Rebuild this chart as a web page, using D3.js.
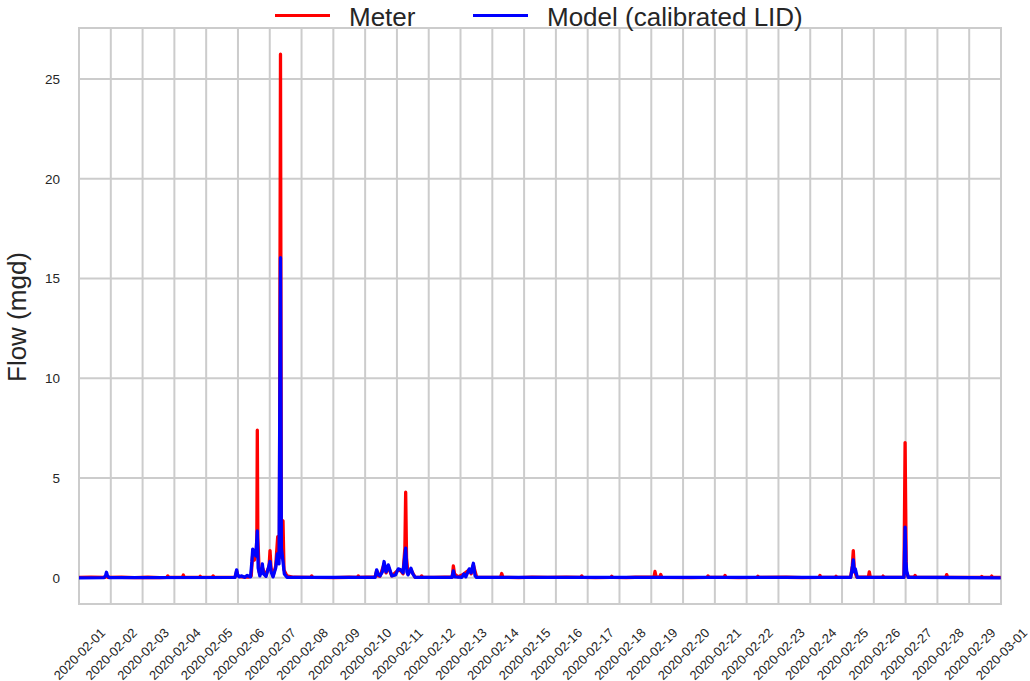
<!DOCTYPE html>
<html>
<head>
<meta charset="utf-8">
<script src="https://cdn.jsdelivr.net/npm/d3@7"></script>
<style>
  html, body { margin: 0; padding: 0; background: #ffffff; }
  svg { display: block; font-family: "Liberation Sans", Arial, sans-serif; }
</style>
</head>
<body>
<svg id="chart" width="1030" height="681"></svg>
<script>
// ---------------- data ----------------
const seriesNames = ["Meter", "Model (calibrated LID)"];
const yTicks = [0, 5, 10, 15, 20, 25];
const xTickDates = ["2020-02-01","2020-02-02","2020-02-03","2020-02-04","2020-02-05","2020-02-06",
  "2020-02-07","2020-02-08","2020-02-09","2020-02-10","2020-02-11","2020-02-12","2020-02-13",
  "2020-02-14","2020-02-15","2020-02-16","2020-02-17","2020-02-18","2020-02-19","2020-02-20",
  "2020-02-21","2020-02-22","2020-02-23","2020-02-24","2020-02-25","2020-02-26","2020-02-27",
  "2020-02-28","2020-02-29","2020-03-01"];

const meterFlow = [
  ["2020-02-01T00:00",0.02],["2020-02-01T09:00",0.04],["2020-02-01T19:30",0.02],["2020-02-01T20:45",0.12],
  ["2020-02-01T22:00",0.02],["2020-02-02T08:00",0.03],["2020-02-02T18:00",0.01],["2020-02-03T04:00",0.03],
  ["2020-02-03T13:00",0.01],["2020-02-03T18:15",0.02],["2020-02-03T19:00",0.1],["2020-02-03T19:45",0.02],
  ["2020-02-04T06:00",0.02],["2020-02-04T06:45",0.14],["2020-02-04T07:30",0.02],
  ["2020-02-04T18:45",0.02],["2020-02-04T19:30",0.08],["2020-02-04T20:15",0.02],
  ["2020-02-05T04:30",0.02],["2020-02-05T05:15",0.1],["2020-02-05T06:00",0.02],
  ["2020-02-05T21:30",0.03],["2020-02-05T22:15",0.1],["2020-02-05T23:00",0.35],["2020-02-05T23:45",0.12],
  ["2020-02-06T02:00",0.05],["2020-02-06T08:00",0.04],["2020-02-06T10:00",0.1],["2020-02-06T11:00",1.1],
  ["2020-02-06T12:30",0.9],["2020-02-06T13:45",1.2],["2020-02-06T14:15",2.0],["2020-02-06T14:36",7.4],
  ["2020-02-06T15:00",2.0],["2020-02-06T16:00",0.3],["2020-02-06T18:30",0.5],["2020-02-06T21:00",0.1],
  ["2020-02-06T23:30",0.6],["2020-02-07T00:12",1.37],["2020-02-07T01:00",0.5],["2020-02-07T02:30",0.1],
  ["2020-02-07T04:30",0.6],["2020-02-07T06:00",2.07],["2020-02-07T07:15",1.0],["2020-02-07T08:06",26.25],
  ["2020-02-07T08:45",2.9],["2020-02-07T10:00",2.85],["2020-02-07T10:45",0.4],["2020-02-07T13:00",0.1],
  ["2020-02-07T18:00",0.03],["2020-02-08T07:00",0.02],["2020-02-08T07:40",0.1],["2020-02-08T08:20",0.02],
  ["2020-02-09T01:00",0.01],["2020-02-09T12:00",0.03],["2020-02-09T18:10",0.02],["2020-02-09T18:50",0.1],
  ["2020-02-09T19:30",0.02],["2020-02-10T07:30",0.05],
  ["2020-02-10T08:42",0.35],["2020-02-10T10:00",0.1],["2020-02-10T11:12",0.08],["2020-02-10T14:18",0.7],
  ["2020-02-10T15:48",0.25],["2020-02-10T17:30",0.55],["2020-02-10T20:06",0.1],["2020-02-11T01:00",0.4],
  ["2020-02-11T02:54",0.35],["2020-02-11T04:36",0.2],["2020-02-11T06:00",1.5],["2020-02-11T06:36",4.29],
  ["2020-02-11T07:15",1.0],["2020-02-11T08:24",0.2],["2020-02-11T10:36",0.4],["2020-02-11T13:42",0.03],
  ["2020-02-11T18:00",0.02],["2020-02-11T18:40",0.1],["2020-02-11T19:20",0.02],["2020-02-12T04:00",0.02],
  ["2020-02-12T12:00",0.04],["2020-02-12T17:45",0.04],
  ["2020-02-12T18:36",0.6],["2020-02-12T19:30",0.2],["2020-02-12T22:06",0.05],["2020-02-13T02:36",0.2],
  ["2020-02-13T06:36",0.4],["2020-02-13T08:00",0.2],["2020-02-13T09:42",0.65],["2020-02-13T12:12",0.04],
  ["2020-02-13T20:00",0.02],["2020-02-14T06:15",0.03],["2020-02-14T07:06",0.22],["2020-02-14T08:00",0.03],
  ["2020-02-14T20:00",0.01],["2020-02-15T06:00",0.04],["2020-02-15T18:00",0.02],["2020-02-16T08:00",0.03],
  ["2020-02-16T18:45",0.02],["2020-02-16T19:30",0.1],["2020-02-16T20:15",0.02],["2020-02-17T06:00",0.01],
  ["2020-02-17T17:30",0.02],["2020-02-17T18:10",0.08],["2020-02-17T18:50",0.02],["2020-02-18T05:00",0.01],
  ["2020-02-18T12:00",0.03],["2020-02-19T02:00",0.03],["2020-02-19T02:48",0.32],["2020-02-19T03:45",0.03],
  ["2020-02-19T06:20",0.03],["2020-02-19T07:06",0.17],["2020-02-19T08:00",0.02],["2020-02-20T06:00",0.01],
  ["2020-02-20T18:10",0.02],["2020-02-20T18:50",0.1],["2020-02-20T19:30",0.02],
  ["2020-02-21T07:00",0.02],["2020-02-21T07:40",0.12],["2020-02-21T08:20",0.02],["2020-02-21T18:00",0.01],
  ["2020-02-22T07:50",0.02],["2020-02-22T08:30",0.08],["2020-02-22T09:10",0.02],
  ["2020-02-23T06:00",0.03],["2020-02-23T18:00",0.01],["2020-02-24T06:40",0.02],["2020-02-24T07:20",0.12],
  ["2020-02-24T08:00",0.02],["2020-02-24T18:50",0.02],["2020-02-24T19:30",0.08],["2020-02-24T20:10",0.02],
  ["2020-02-25T06:30",0.03],["2020-02-25T07:45",0.6],
  ["2020-02-25T08:30",1.37],["2020-02-25T09:15",0.4],["2020-02-25T11:00",0.04],["2020-02-25T19:50",0.03],
  ["2020-02-25T20:36",0.3],["2020-02-25T21:20",0.03],["2020-02-26T06:20",0.02],["2020-02-26T07:00",0.09],
  ["2020-02-26T07:40",0.02],["2020-02-26T22:45",0.04],["2020-02-26T23:36",6.78],
  ["2020-02-27T00:30",0.3],["2020-02-27T02:00",0.05],["2020-02-27T06:20",0.03],["2020-02-27T07:06",0.12],
  ["2020-02-27T08:00",0.02],["2020-02-28T06:15",0.02],["2020-02-28T07:00",0.16],["2020-02-28T07:45",0.02],
  ["2020-02-29T08:50",0.02],["2020-02-29T09:30",0.07],["2020-02-29T10:10",0.02],
  ["2020-02-29T16:20",0.02],["2020-02-29T17:00",0.09],["2020-02-29T17:40",0.02],["2020-02-29T23:45",0.02]
];

const modelFlow = [
  ["2020-02-01T00:00",0.0],["2020-02-01T18:45",0.01],["2020-02-01T20:00",0.1],["2020-02-01T20:45",0.28],
  ["2020-02-01T21:30",0.1],["2020-02-01T23:00",0.01],["2020-02-05T21:45",0.02],["2020-02-05T23:00",0.4],
  ["2020-02-05T23:45",0.15],["2020-02-06T01:00",0.05],["2020-02-06T02:30",0.1],["2020-02-06T05:00",0.03],
  ["2020-02-06T07:00",0.12],["2020-02-06T09:30",0.05],["2020-02-06T10:30",0.8],["2020-02-06T11:08",1.44],
  ["2020-02-06T12:30",1.3],["2020-02-06T13:30",1.1],["2020-02-06T14:36",2.35],["2020-02-06T15:15",0.5],
  ["2020-02-06T16:30",0.1],["2020-02-06T17:30",0.3],["2020-02-06T18:24",0.7],["2020-02-06T19:15",0.2],
  ["2020-02-06T21:10",0.08],["2020-02-06T23:00",0.5],["2020-02-07T00:12",0.82],["2020-02-07T01:00",0.3],
  ["2020-02-07T02:30",0.05],["2020-02-07T04:30",0.5],["2020-02-07T05:42",1.2],["2020-02-07T07:00",0.7],
  ["2020-02-07T08:06",16.05],["2020-02-07T08:45",1.5],["2020-02-07T10:00",0.8],["2020-02-07T11:00",0.2],
  ["2020-02-07T13:00",0.03],["2020-02-10T07:30",0.02],["2020-02-10T08:42",0.4],["2020-02-10T10:00",0.15],
  ["2020-02-10T11:12",0.1],["2020-02-10T13:00",0.3],["2020-02-10T14:18",0.82],["2020-02-10T15:48",0.3],
  ["2020-02-10T17:30",0.65],["2020-02-10T20:06",0.1],["2020-02-10T23:00",0.15],["2020-02-11T01:00",0.45],
  ["2020-02-11T02:54",0.4],["2020-02-11T04:36",0.25],["2020-02-11T06:36",1.49],["2020-02-11T07:30",0.3],
  ["2020-02-11T08:24",0.15],["2020-02-11T10:36",0.48],["2020-02-11T12:00",0.2],["2020-02-11T13:42",0.02],
  ["2020-02-12T17:30",0.02],["2020-02-12T18:36",0.35],["2020-02-12T19:30",0.05],["2020-02-13T01:00",0.03],
  ["2020-02-13T02:36",0.2],["2020-02-13T04:00",0.05],["2020-02-13T06:36",0.45],["2020-02-13T08:00",0.25],
  ["2020-02-13T09:42",0.73],["2020-02-13T11:00",0.1],["2020-02-13T12:12",0.02],["2020-02-25T06:30",0.02],
  ["2020-02-25T07:45",0.5],["2020-02-25T08:30",0.9],["2020-02-25T09:15",0.3],["2020-02-25T10:00",0.45],
  ["2020-02-25T11:30",0.03],["2020-02-26T22:45",0.02],["2020-02-26T23:36",2.54],["2020-02-27T00:15",0.8],
  ["2020-02-27T00:48",0.35],["2020-02-27T02:00",0.03],["2020-02-29T23:45",0.0]
];

const seriesColors = ["#ff0000", "#0000ff"];

// ---------------- chart ----------------
const W = 1030, H = 681;
const margin = {left: 79, right: 29, top: 28, bottom: 77};
const svg = d3.select("#chart");
const parse = d3.timeParse("%Y-%m-%dT%H:%M");
const parseDay = d3.timeParse("%Y-%m-%d");
const fmt = d3.timeFormat("%Y-%m-%d");

const x = d3.scaleTime()
  .domain([parseDay("2020-02-01"), parseDay("2020-03-01")])
  .range([margin.left, W - margin.right]);
const y = d3.scaleLinear()
  .domain([-1.31, 27.56])
  .range([H - margin.bottom, margin.top]);

const gridColor = "#cccccc";
const textColor = "#262626";

// grid lines
const xTicks = xTickDates.map(parseDay);
svg.append("g").selectAll("line").data(xTicks).join("line")
  .attr("x1", d => x(d)).attr("x2", d => x(d))
  .attr("y1", margin.top).attr("y2", H - margin.bottom)
  .attr("stroke", gridColor).attr("stroke-width", 2);
svg.append("g").selectAll("line").data(yTicks).join("line")
  .attr("x1", margin.left).attr("x2", W - margin.right)
  .attr("y1", d => y(d)).attr("y2", d => y(d))
  .attr("stroke", gridColor).attr("stroke-width", 2);

// frame
svg.append("rect")
  .attr("x", margin.left).attr("y", margin.top)
  .attr("width", W - margin.left - margin.right)
  .attr("height", H - margin.top - margin.bottom)
  .attr("fill", "none").attr("stroke", gridColor).attr("stroke-width", 2);

// lines
const line = d3.line().x(d => x(parse(d[0]))).y(d => y(d[1]));
svg.append("clipPath").attr("id", "clip").append("rect")
  .attr("x", margin.left).attr("y", margin.top)
  .attr("width", W - margin.left - margin.right)
  .attr("height", H - margin.top - margin.bottom);
[meterFlow, modelFlow].forEach((s, i) => {
  svg.append("path")
    .datum(s)
    .attr("clip-path", "url(#clip)")
    .attr("d", line)
    .attr("fill", "none")
    .attr("stroke", seriesColors[i])
    .attr("stroke-width", 3.3)
    .attr("stroke-linejoin", "round")
    .attr("stroke-linecap", "butt");
});

// x axis
const xAxis = d3.axisBottom(x).tickValues(xTicks).tickSize(0).tickFormat(fmt);
const gx = svg.append("g").attr("transform", `translate(0,${H - margin.bottom})`).call(xAxis);
gx.select(".domain").remove();
gx.selectAll(".tick text")
  .attr("fill", textColor)
  .style("font-size", "13px")
  .style("font-family", "'Liberation Sans', Arial, sans-serif")
  .attr("text-anchor", "middle")
  .attr("dominant-baseline", "central")
  .attr("y", 0).attr("dy", null)
  .attr("transform", "translate(0,50) rotate(-45)");

// y axis
const yAxis = d3.axisLeft(y).tickValues(yTicks).tickSize(0).tickPadding(19);
const gy = svg.append("g").attr("transform", `translate(${margin.left},0)`).call(yAxis);
gy.select(".domain").remove();
gy.selectAll(".tick text")
  .attr("fill", textColor)
  .style("font-size", "13.5px")
  .style("font-family", "'Liberation Sans', Arial, sans-serif");

// y label
svg.append("text")
  .attr("transform", `translate(17,${(margin.top + H - margin.bottom) / 2 + 1}) rotate(-90)`)
  .attr("text-anchor", "middle")
  .attr("dominant-baseline", "central")
  .attr("fill", textColor)
  .style("font-size", "26px")
  .text("Flow (mgd)");

// legend
const legendItems = [
  {name: seriesNames[0], color: seriesColors[0], x0: 275},
  {name: seriesNames[1], color: seriesColors[1], x0: 473}
];
const lg = svg.append("g");
legendItems.forEach(it => {
  lg.append("line")
    .attr("x1", it.x0).attr("x2", it.x0 + 55)
    .attr("y1", 15.5).attr("y2", 15.5)
    .attr("stroke", it.color).attr("stroke-width", 3);
  lg.append("text")
    .attr("x", it.x0 + 74).attr("y", 25.5)
    .attr("fill", textColor)
    .style("font-size", "26px")
    .text(it.name);
});
</script>
</body>
</html>
